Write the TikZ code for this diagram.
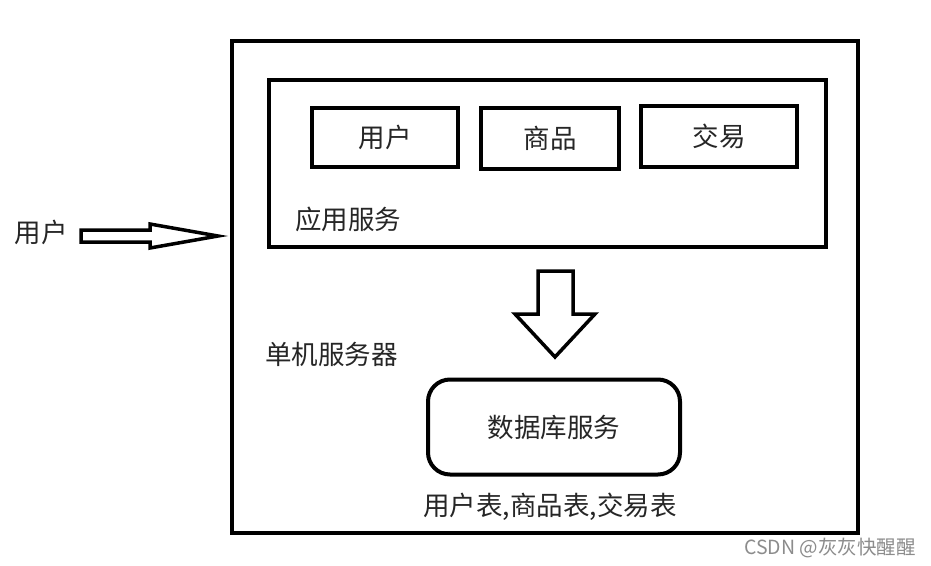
\documentclass[tikz,border=0pt]{standalone}
\usepackage{fontspec}
\setmainfont{Noto Sans CJK SC}
\begin{document}
\begin{tikzpicture}[x=1pt,y=-1pt,
  thick box/.style={draw=black,line width=4pt},
  arrowshape/.style={draw=black,line width=3.5pt,fill=white,line join=miter},
  lbl/.style={font=\fontsize{26.5}{30}\selectfont,text=black!85,inner sep=0pt}]
\useasboundingbox (0,0) rectangle (931,565);
\fill[white] (0,0) rectangle (931,565);
% outer server box
\draw[thick box] (232,41) rectangle (858,533);
\node[lbl,anchor=west] (single) at (265,354) {单机服务器};
% application service box
\draw[thick box] (269,80) rectangle (826,247);
\node[lbl,anchor=west] (app) at (295,219) {应用服务};
\node[thick box,minimum width=146pt,minimum height=59pt,lbl] (u) at (385,137) {用户};
\node[thick box,minimum width=138pt,minimum height=61pt,lbl] (g) at (550,138) {商品};
\node[thick box,minimum width=156pt,minimum height=61pt,lbl] (t) at (719,136) {交易};
% db box
\node[thick box,rounded corners=22pt,minimum width=252pt,minimum height=95pt,lbl] (db) at (554,427) {数据库服务};
\node[lbl] (tables) at (550,507) {用户表,商品表,交易表};
% left user
\node[lbl] (user) at (41,232) {用户};
\coordinate (tip) at (218,236);
\draw[arrowshape] (81,230) -- (150,230) -- (150,224) -- (tip) -- (150,248) -- (150,242) -- (81,242) -- cycle;
% down arrow
\coordinate (dtip) at (555,357);
\draw[arrowshape] (538,271) -- (573,271) -- (573,314) -- (595,314) -- (dtip) -- (515,314) -- (538,314) -- cycle;
% watermark
\node[font=\fontsize{19.5}{22}\selectfont,text=black!45,inner sep=0pt] (wm) at (830,548) {CSDN @灰灰快醒醒};
\end{tikzpicture}
\end{document}
